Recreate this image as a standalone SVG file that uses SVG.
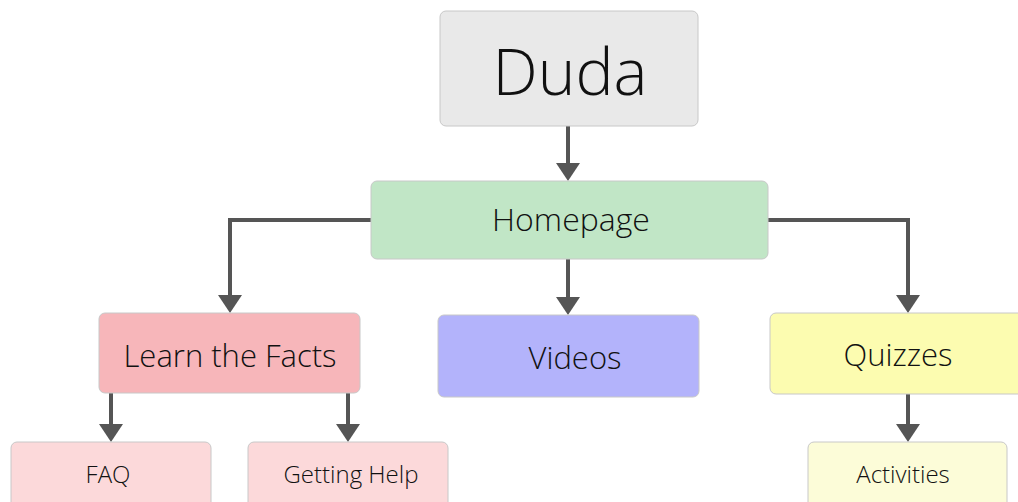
<svg xmlns="http://www.w3.org/2000/svg" width="1018" height="502" viewBox="0 0 1018 502">
<style>
.n{stroke:#c8c8c8;stroke-width:1}
.t{font-family:"Open Sans","Lato","Liberation Sans",sans-serif;font-weight:300;fill:#111;text-anchor:middle}
.c{fill:none;stroke:#555;stroke-width:4}
.h{fill:#555}
</style>
<rect width="1018" height="502" fill="#fff"/>
<g id="connectors">
<path class="c" d="M568,126 V164"/>
<path class="c" d="M371,220 H230 V296"/>
<path class="c" d="M768,220 H908 V296"/>
<path class="c" d="M568,259 V298"/>
<path class="c" d="M111,393 V424"/>
<path class="c" d="M348,393 V424"/>
<path class="c" d="M908,394 V424"/>
<path class="h" d="M556,163 L580,163 L568,181 Z"/>
<path class="h" d="M218,295 L242,295 L230,313 Z"/>
<path class="h" d="M896,295 L920,295 L908,313 Z"/>
<path class="h" d="M556,297 L580,297 L568,315 Z"/>
<path class="h" d="M99,424 L123,424 L111,442 Z"/>
<path class="h" d="M336,424 L360,424 L348,442 Z"/>
<path class="h" d="M896,424 L920,424 L908,442 Z"/>
</g>
<g id="duda">
<rect class="n" x="440" y="11" width="258" height="115" rx="6" fill="#e9e9e9"/>
<text class="t" x="570" y="95" font-size="64">Duda</text>
</g>
<g id="homepage">
<rect class="n" x="371" y="181" width="397" height="78" rx="6" fill="#c1e6c6"/>
<text class="t" x="571" y="231" font-size="32">Homepage</text>
</g>
<g id="learn">
<rect class="n" x="99" y="313" width="261" height="80" rx="6" fill="#f7b6ba"/>
<text class="t" x="230" y="367" font-size="31">Learn the Facts</text>
</g>
<g id="videos">
<rect class="n" x="438" y="315" width="261" height="82" rx="6" fill="#b3b3fb"/>
<text class="t" x="575" y="369" font-size="31">Videos</text>
</g>
<g id="quizzes">
<rect class="n" x="770" y="313" width="260" height="81" rx="6" fill="#fcfcb0"/>
<text class="t" x="898" y="366" font-size="31">Quizzes</text>
</g>
<g id="faq">
<rect class="n" x="11" y="442" width="200" height="70" rx="6" fill="#fcd9da"/>
<text class="t" x="108" y="483" font-size="24">FAQ</text>
</g>
<g id="help">
<rect class="n" x="248" y="442" width="200" height="70" rx="6" fill="#fcd9da"/>
<text class="t" x="351" y="483" font-size="24">Getting Help</text>
</g>
<g id="activities">
<rect class="n" x="808" y="442" width="199" height="70" rx="6" fill="#fcfcd8"/>
<text class="t" x="903" y="483" font-size="24">Activities</text>
</g>
</svg>
